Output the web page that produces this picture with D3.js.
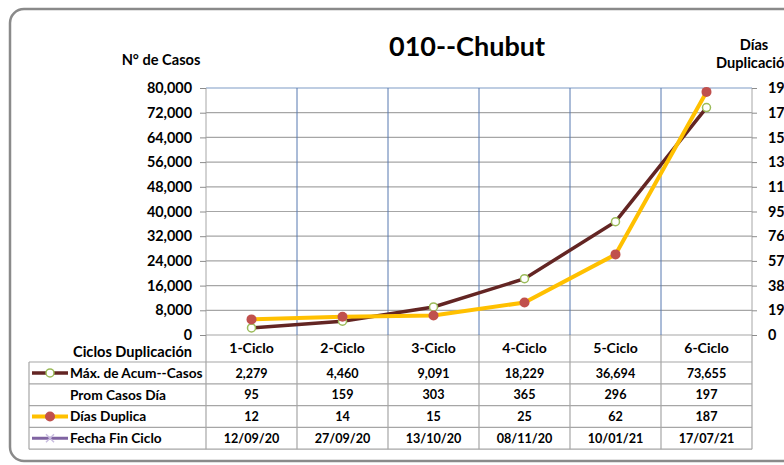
<!DOCTYPE html>
<html>
<head>
<meta charset="utf-8">
<script src="https://cdn.jsdelivr.net/npm/d3@7"></script>
<style>
  body { margin: 0; background: #fff; }
  svg { font-family: Lato, "Open Sans", sans-serif; font-weight: bold; }
</style>
</head>
<body>
<div id="chart"></div>
<script>
// data
var ciclos = ["1-Ciclo", "2-Ciclo", "3-Ciclo", "4-Ciclo", "5-Ciclo", "6-Ciclo"];
var maxCasos = [2279, 4460, 9091, 18229, 36694, 73655];
var promCasos = [95, 159, 303, 365, 296, 197];
var diasDuplica = [12, 14, 15, 25, 62, 187];
var fechaFin = ["12/09/20", "27/09/20", "13/10/20", "08/11/20", "10/01/21", "17/07/21"];
var leftTicks = d3.range(0, 80001, 8000);
var rightTicks = d3.range(0, 191, 19);

var svgWidth = 784;
var svgHeight = 465;

var plot = { left: 206, right: 752, top: 88, bottom: 335 };

var svg = d3.select("#chart")
  .append("svg")
  .attr("width", svgWidth)
  .attr("height", svgHeight);

// outer rounded frame
svg.append("rect")
  .attr("x", 10).attr("y", 9)
  .attr("width", 800).attr("height", 452)
  .attr("rx", 14)
  .attr("fill", "none")
  .attr("stroke", "#8a8a8a")
  .attr("stroke-width", 2.5);

var xScale = d3.scaleBand()
  .domain(ciclos)
  .range([plot.left, plot.right]);

var yLeft = d3.scaleLinear()
  .domain([0, 80000])
  .range([plot.bottom, plot.top]);

var yRight = d3.scaleLinear()
  .domain([0, 190])
  .range([plot.bottom, plot.top]);

var cx = d => xScale(d) + xScale.bandwidth() / 2;

// horizontal gridlines
svg.append("g")
  .selectAll("line")
  .data(leftTicks)
  .enter()
  .append("line")
  .attr("x1", plot.left)
  .attr("x2", plot.right)
  .attr("y1", d => yLeft(d))
  .attr("y2", d => yLeft(d))
  .attr("stroke", d => d === 80000 ? "#7f9cc6" : "#a6a6a6")
  .attr("stroke-width", 1.2);

// table geometry
var rowTop = 362;
var rowH = 21.8;
var tableLeft = 29;
var rowLabels = ["Máx. de Acum--Casos", "Prom Casos Día", "Días Duplica", "Fecha Fin Ciclo"];
var rowValues = [
  maxCasos.map(d3.format(",")),
  promCasos.map(String),
  diasDuplica.map(String),
  fechaFin
];

// vertical lines: blue in plot, grey in table
var vEdges = ciclos.map(c => xScale(c)).concat([plot.right]);
svg.append("g")
  .selectAll("line")
  .data(vEdges)
  .enter()
  .append("line")
  .attr("x1", d => d).attr("x2", d => d)
  .attr("y1", plot.top).attr("y2", plot.bottom)
  .attr("stroke", (d, i) => (i === 0 || i === vEdges.length - 1) ? "#a6a6a6" : "#5779b0")
  .attr("stroke-width", 1);

svg.append("g")
  .selectAll("line")
  .data(vEdges)
  .enter()
  .append("line")
  .attr("x1", d => d).attr("x2", d => d)
  .attr("y1", plot.bottom).attr("y2", rowTop + rowH * 4)
  .attr("stroke", "#a6a6a6")
  .attr("stroke-width", 1.2);

// table horizontal lines
svg.append("g")
  .selectAll("line")
  .data(d3.range(5))
  .enter()
  .append("line")
  .attr("x1", tableLeft).attr("x2", plot.right)
  .attr("y1", i => rowTop + i * rowH)
  .attr("y2", i => rowTop + i * rowH)
  .attr("stroke", "#a6a6a6")
  .attr("stroke-width", 1.2);

svg.append("line")
  .attr("x1", tableLeft).attr("x2", tableLeft)
  .attr("y1", rowTop).attr("y2", rowTop + rowH * 4)
  .attr("stroke", "#a6a6a6")
  .attr("stroke-width", 1.2);

// left axis
var leftAxis = d3.axisLeft(yLeft)
  .tickValues(leftTicks)
  .tickFormat(d3.format(","))
  .tickSize(6)
  .tickPadding(8);

var gLeft = svg.append("g")
  .attr("transform", `translate(${plot.left},0)`)
  .call(leftAxis);
gLeft.select(".domain").remove();
gLeft.selectAll("line").attr("stroke", "#8c8c8c");
gLeft.selectAll("text")
  .attr("font-size", "14.4px")
  .attr("font-family", "Lato, sans-serif")
  .attr("font-weight", "bold")
  .attr("fill", "#000");

// right axis
var rightAxis = d3.axisRight(yRight)
  .tickValues(rightTicks)
  .tickFormat(d => d)
  .tickSize(5)
  .tickPadding(11);

var gRight = svg.append("g")
  .attr("transform", `translate(${plot.right},0)`)
  .call(rightAxis);
gRight.select(".domain").remove();
gRight.selectAll("line").attr("stroke", "#8c8c8c");
gRight.selectAll("text")
  .attr("font-size", "14.4px")
  .attr("font-family", "Lato, sans-serif")
  .attr("font-weight", "bold")
  .attr("fill", "#000");

// lines
var lineCasos = d3.line()
  .x((d, i) => cx(ciclos[i]))
  .y(d => yLeft(d));

var lineDias = d3.line()
  .x((d, i) => cx(ciclos[i]))
  .y(d => yRight(d));

svg.append("path")
  .datum(maxCasos)
  .attr("d", lineCasos)
  .attr("fill", "none")
  .attr("stroke", "#632523")
  .attr("stroke-width", 3.5);

svg.append("path")
  .datum(diasDuplica)
  .attr("d", lineDias)
  .attr("fill", "none")
  .attr("stroke", "#ffc000")
  .attr("stroke-width", 4);

svg.append("g")
  .selectAll("circle")
  .data(maxCasos)
  .enter()
  .append("circle")
  .attr("cx", (d, i) => cx(ciclos[i]))
  .attr("cy", d => yLeft(d))
  .attr("r", 4)
  .attr("fill", "#fff")
  .attr("stroke", "#9bbb59")
  .attr("stroke-width", 1.5);

svg.append("g")
  .selectAll("circle")
  .data(diasDuplica)
  .enter()
  .append("circle")
  .attr("cx", (d, i) => cx(ciclos[i]))
  .attr("cy", d => yRight(d))
  .attr("r", 5)
  .attr("fill", "#c0504d");

// titles
svg.append("text")
  .attr("x", 467).attr("y", 56)
  .attr("text-anchor", "middle")
  .attr("font-size", "27px")
  .text("010--Chubut");

svg.append("text")
  .attr("x", 161).attr("y", 65)
  .attr("text-anchor", "middle")
  .attr("font-size", "14.6px")
  .text("N° de Casos");

svg.append("text")
  .attr("x", 754).attr("y", 50)
  .attr("text-anchor", "middle")
  .attr("font-size", "14.6px")
  .text("Días");

svg.append("text")
  .attr("x", 716).attr("y", 68)
  .attr("font-size", "14.6px")
  .text("Duplicación");

// header row
svg.append("text")
  .attr("x", 192).attr("y", 357)
  .attr("text-anchor", "end")
  .attr("font-size", "14.6px")
  .text("Ciclos Duplicación");

svg.append("g")
  .selectAll("text")
  .data(ciclos)
  .enter()
  .append("text")
  .attr("x", d => cx(d))
  .attr("y", 353)
  .attr("text-anchor", "middle")
  .attr("font-size", "14px")
  .text(d => d);

// table rows
rowLabels.forEach(function(label, r) {
  var yMid = rowTop + rowH * (r + 0.5);
  svg.append("text")
    .attr("x", 70).attr("y", yMid + 4.8)
    .attr("font-size", "13.7px")
    .text(label);
  svg.append("g")
    .selectAll("text")
    .data(rowValues[r])
    .enter()
    .append("text")
    .attr("x", (d, i) => cx(ciclos[i]))
    .attr("y", yMid + 4.6)
    .attr("text-anchor", "middle")
    .attr("font-size", "12.6px")
    .text(d => d);
});

// legend keys in table
var keyY = r => rowTop + rowH * (r + 0.5);
var key = svg.append("g");
key.append("line")
  .attr("x1", 32).attr("x2", 68)
  .attr("y1", keyY(0)).attr("y2", keyY(0))
  .attr("stroke", "#632523").attr("stroke-width", 3.5);
key.append("circle")
  .attr("cx", 50).attr("cy", keyY(0)).attr("r", 4)
  .attr("fill", "#fff").attr("stroke", "#9bbb59").attr("stroke-width", 1.5);
key.append("line")
  .attr("x1", 32).attr("x2", 68)
  .attr("y1", keyY(2)).attr("y2", keyY(2))
  .attr("stroke", "#ffc000").attr("stroke-width", 4);
key.append("circle")
  .attr("cx", 50).attr("cy", keyY(2)).attr("r", 5)
  .attr("fill", "#c0504d");
key.append("line")
  .attr("x1", 32).attr("x2", 68)
  .attr("y1", keyY(3)).attr("y2", keyY(3))
  .attr("stroke", "#8064a2").attr("stroke-width", 3);
key.append("path")
  .attr("d", `M46,${keyY(3) - 4}L54,${keyY(3) + 4}M46,${keyY(3) + 4}L54,${keyY(3) - 4}`)
  .attr("stroke", "#c9bde0").attr("stroke-width", 1.5);
</script>
</body>
</html>
